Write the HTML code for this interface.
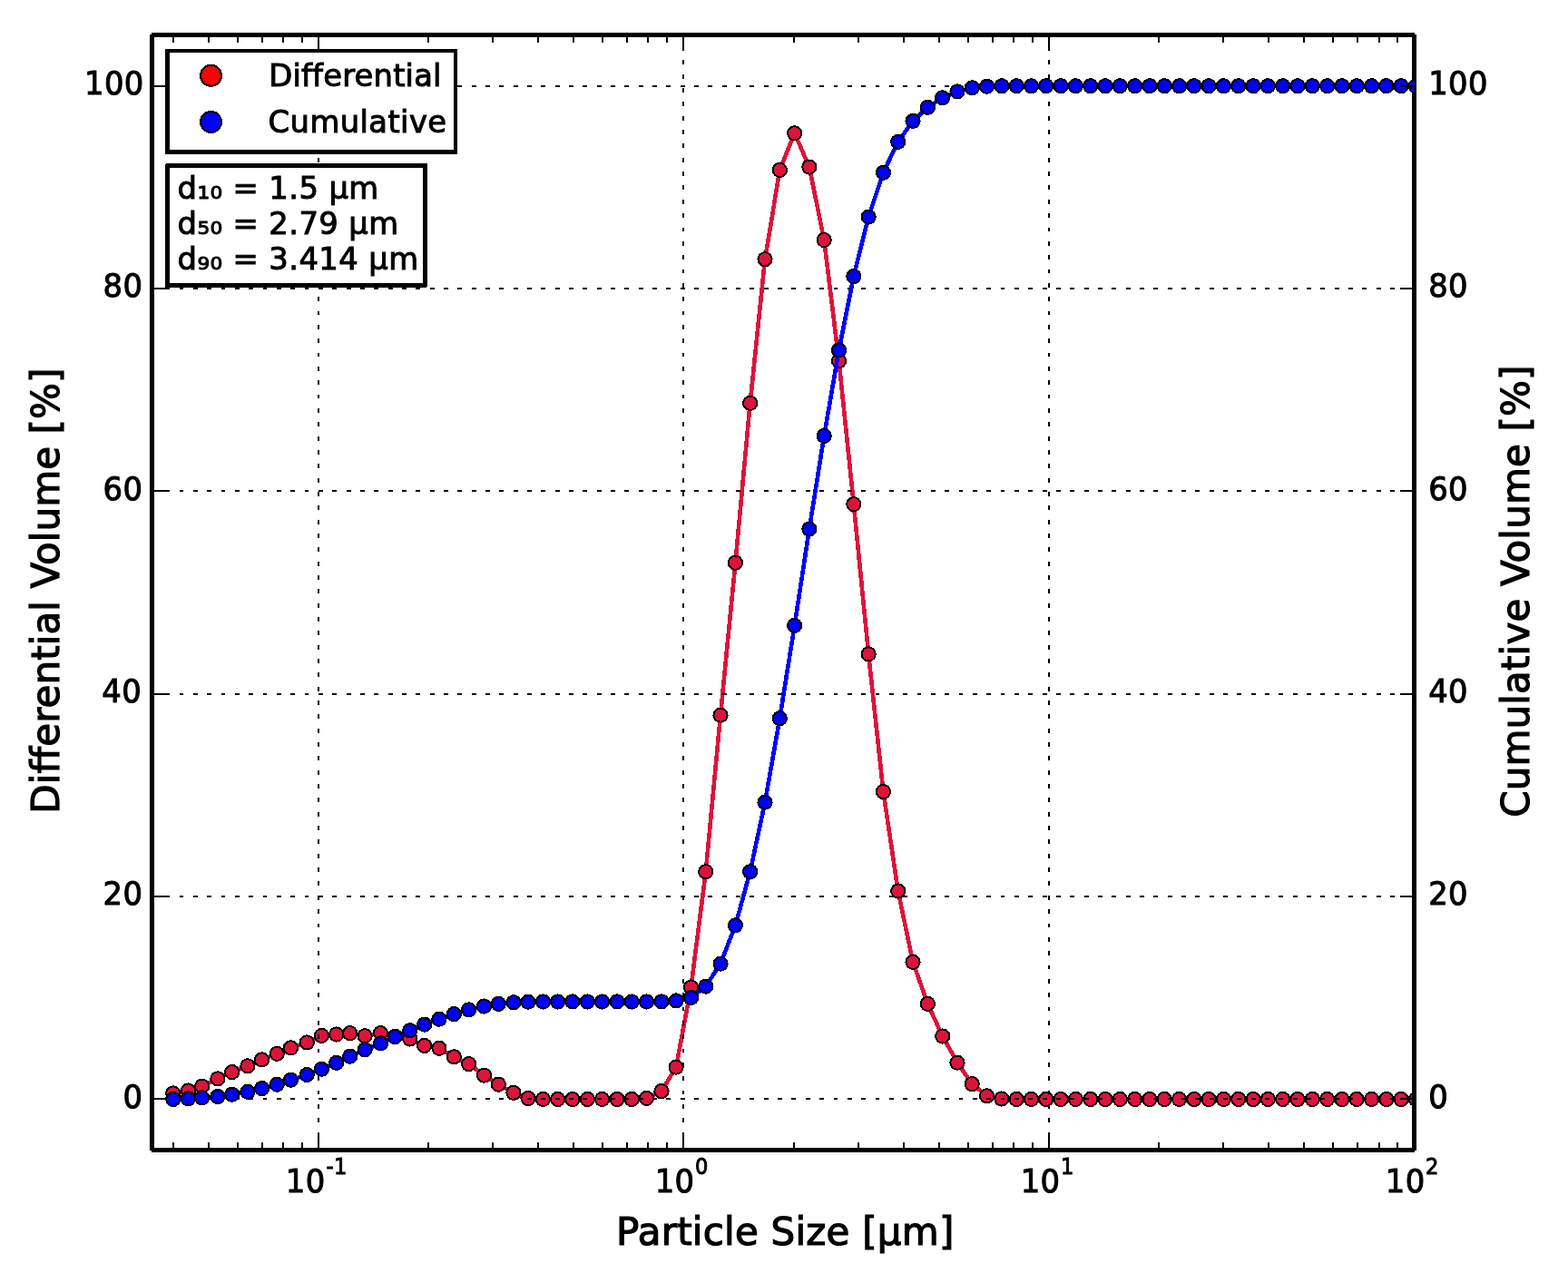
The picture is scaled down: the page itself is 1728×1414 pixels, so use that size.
<!DOCTYPE html>
<html lang="en"><head><meta charset="utf-8"><title>Particle Size Distribution</title>
<style>
html,body{margin:0;padding:0;background:#fff;}
body{width:1728px;height:1414px;overflow:hidden;}
svg{display:block;}
text{font-family:"DejaVu Sans","Liberation Sans",sans-serif;fill:#000;stroke:#000;stroke-width:1.0px;stroke-linejoin:miter;stroke-miterlimit:2;letter-spacing:0.4px;}
.tk{font-size:33.8px;}
.sp{font-size:22.6px;stroke-width:0.9px;}
.lg{font-size:33.8px;}
.bx{font-size:33.8px;}
.lb{font-size:42.0px;stroke-width:1.2px;}
.crisp{shape-rendering:crispEdges;}
</style></head><body>
<svg width="1728" height="1414" viewBox="0 0 1728 1414">
<rect x="0" y="0" width="1728" height="1414" fill="#fff"/>
<defs><clipPath id="ax"><rect x="167.5" y="38.5" width="1391.0" height="1229.0"/></clipPath></defs>
<g clip-path="url(#ax)" class="red crisp">
<polyline points="190.754,1204.875 207.416,1201.971 222.628,1197.17 239.951,1188.906 255.711,1181.535 272.92,1174.835 288.587,1167.911 305.249,1161.323 320.46,1154.846 338.254,1148.927 354.403,1141.445 370.753,1139.993 385.704,1138.653 402.105,1141.668 419.478,1138.653 435.279,1142.227 451.745,1145.018 467.691,1152.5 483.945,1155.292 500.31,1164.784 516.634,1172.602 533.419,1185.109 549.296,1195.159 565.907,1204.317 582.011,1210.459 598.461,1211.464 614.66,1211.464 630.9,1211.464 647.37,1211.464 663.594,1211.464 680.043,1211.464 696.294,1211.464 712.492,1210.347 728.934,1202.641 745.065,1176.175 761.51,1088.065 777.762,960.758 794.022,788.112 810.42,620.157 826.68,444.272 843.028,285.697 859.318,187.425 875.616,146.776 891.875,184.075 908.198,264.479 924.512,397.704 940.816,555.721 957.151,720.885 973.436,872.537 989.696,981.976 1006.061,1060.37 1022.382,1106.38 1038.682,1142.003 1054.999,1171.15 1071.261,1194.601 1087.593,1207.89 1103.876,1211.017 1120.193,1211.464 1136.51,1211.464 1152.827,1211.464 1169.151,1211.464 1185.4,1211.464 1201.752,1211.464 1218.059,1211.464 1234.32,1211.464 1250.626,1211.464 1266.937,1211.464 1283.211,1211.464 1299.566,1211.464 1315.857,1211.464 1332.105,1211.464 1348.488,1211.464 1364.743,1211.464 1381.116,1211.464 1397.365,1211.464 1413.679,1211.464 1429.992,1211.464 1446.345,1211.464 1462.636,1211.464 1478.921,1211.464 1495.254,1211.464 1511.569,1211.464 1527.871,1211.464 1544.154,1211.464 1560.473,1211.464 1576.804,1211.464 1593.036,1211.464 1609.333,1211.464" fill="none" stroke="#dc143c" stroke-width="4.6" stroke-linejoin="round"/>
<circle cx="190.754" cy="1204.875" r="7.6" fill="#dc143c" stroke="#000" stroke-width="2"/>
<circle cx="207.416" cy="1201.971" r="7.6" fill="#dc143c" stroke="#000" stroke-width="2"/>
<circle cx="222.628" cy="1197.17" r="7.6" fill="#dc143c" stroke="#000" stroke-width="2"/>
<circle cx="239.951" cy="1188.906" r="7.6" fill="#dc143c" stroke="#000" stroke-width="2"/>
<circle cx="255.711" cy="1181.535" r="7.6" fill="#dc143c" stroke="#000" stroke-width="2"/>
<circle cx="272.92" cy="1174.835" r="7.6" fill="#dc143c" stroke="#000" stroke-width="2"/>
<circle cx="288.587" cy="1167.911" r="7.6" fill="#dc143c" stroke="#000" stroke-width="2"/>
<circle cx="305.249" cy="1161.323" r="7.6" fill="#dc143c" stroke="#000" stroke-width="2"/>
<circle cx="320.46" cy="1154.846" r="7.6" fill="#dc143c" stroke="#000" stroke-width="2"/>
<circle cx="338.254" cy="1148.927" r="7.6" fill="#dc143c" stroke="#000" stroke-width="2"/>
<circle cx="354.403" cy="1141.445" r="7.6" fill="#dc143c" stroke="#000" stroke-width="2"/>
<circle cx="370.753" cy="1139.993" r="7.6" fill="#dc143c" stroke="#000" stroke-width="2"/>
<circle cx="385.704" cy="1138.653" r="7.6" fill="#dc143c" stroke="#000" stroke-width="2"/>
<circle cx="402.105" cy="1141.668" r="7.6" fill="#dc143c" stroke="#000" stroke-width="2"/>
<circle cx="419.478" cy="1138.653" r="7.6" fill="#dc143c" stroke="#000" stroke-width="2"/>
<circle cx="435.279" cy="1142.227" r="7.6" fill="#dc143c" stroke="#000" stroke-width="2"/>
<circle cx="451.745" cy="1145.018" r="7.6" fill="#dc143c" stroke="#000" stroke-width="2"/>
<circle cx="467.691" cy="1152.5" r="7.6" fill="#dc143c" stroke="#000" stroke-width="2"/>
<circle cx="483.945" cy="1155.292" r="7.6" fill="#dc143c" stroke="#000" stroke-width="2"/>
<circle cx="500.31" cy="1164.784" r="7.6" fill="#dc143c" stroke="#000" stroke-width="2"/>
<circle cx="516.634" cy="1172.602" r="7.6" fill="#dc143c" stroke="#000" stroke-width="2"/>
<circle cx="533.419" cy="1185.109" r="7.6" fill="#dc143c" stroke="#000" stroke-width="2"/>
<circle cx="549.296" cy="1195.159" r="7.6" fill="#dc143c" stroke="#000" stroke-width="2"/>
<circle cx="565.907" cy="1204.317" r="7.6" fill="#dc143c" stroke="#000" stroke-width="2"/>
<circle cx="582.011" cy="1210.459" r="7.6" fill="#dc143c" stroke="#000" stroke-width="2"/>
<circle cx="598.461" cy="1211.464" r="7.6" fill="#dc143c" stroke="#000" stroke-width="2"/>
<circle cx="614.66" cy="1211.464" r="7.6" fill="#dc143c" stroke="#000" stroke-width="2"/>
<circle cx="630.9" cy="1211.464" r="7.6" fill="#dc143c" stroke="#000" stroke-width="2"/>
<circle cx="647.37" cy="1211.464" r="7.6" fill="#dc143c" stroke="#000" stroke-width="2"/>
<circle cx="663.594" cy="1211.464" r="7.6" fill="#dc143c" stroke="#000" stroke-width="2"/>
<circle cx="680.043" cy="1211.464" r="7.6" fill="#dc143c" stroke="#000" stroke-width="2"/>
<circle cx="696.294" cy="1211.464" r="7.6" fill="#dc143c" stroke="#000" stroke-width="2"/>
<circle cx="712.492" cy="1210.347" r="7.6" fill="#dc143c" stroke="#000" stroke-width="2"/>
<circle cx="728.934" cy="1202.641" r="7.6" fill="#dc143c" stroke="#000" stroke-width="2"/>
<circle cx="745.065" cy="1176.175" r="7.6" fill="#dc143c" stroke="#000" stroke-width="2"/>
<circle cx="761.51" cy="1088.065" r="7.6" fill="#dc143c" stroke="#000" stroke-width="2"/>
<circle cx="777.762" cy="960.758" r="7.6" fill="#dc143c" stroke="#000" stroke-width="2"/>
<circle cx="794.022" cy="788.112" r="7.6" fill="#dc143c" stroke="#000" stroke-width="2"/>
<circle cx="810.42" cy="620.157" r="7.6" fill="#dc143c" stroke="#000" stroke-width="2"/>
<circle cx="826.68" cy="444.272" r="7.6" fill="#dc143c" stroke="#000" stroke-width="2"/>
<circle cx="843.028" cy="285.697" r="7.6" fill="#dc143c" stroke="#000" stroke-width="2"/>
<circle cx="859.318" cy="187.425" r="7.6" fill="#dc143c" stroke="#000" stroke-width="2"/>
<circle cx="875.616" cy="146.776" r="7.6" fill="#dc143c" stroke="#000" stroke-width="2"/>
<circle cx="891.875" cy="184.075" r="7.6" fill="#dc143c" stroke="#000" stroke-width="2"/>
<circle cx="908.198" cy="264.479" r="7.6" fill="#dc143c" stroke="#000" stroke-width="2"/>
<circle cx="924.512" cy="397.704" r="7.6" fill="#dc143c" stroke="#000" stroke-width="2"/>
<circle cx="940.816" cy="555.721" r="7.6" fill="#dc143c" stroke="#000" stroke-width="2"/>
<circle cx="957.151" cy="720.885" r="7.6" fill="#dc143c" stroke="#000" stroke-width="2"/>
<circle cx="973.436" cy="872.537" r="7.6" fill="#dc143c" stroke="#000" stroke-width="2"/>
<circle cx="989.696" cy="981.976" r="7.6" fill="#dc143c" stroke="#000" stroke-width="2"/>
<circle cx="1006.061" cy="1060.37" r="7.6" fill="#dc143c" stroke="#000" stroke-width="2"/>
<circle cx="1022.382" cy="1106.38" r="7.6" fill="#dc143c" stroke="#000" stroke-width="2"/>
<circle cx="1038.682" cy="1142.003" r="7.6" fill="#dc143c" stroke="#000" stroke-width="2"/>
<circle cx="1054.999" cy="1171.15" r="7.6" fill="#dc143c" stroke="#000" stroke-width="2"/>
<circle cx="1071.261" cy="1194.601" r="7.6" fill="#dc143c" stroke="#000" stroke-width="2"/>
<circle cx="1087.593" cy="1207.89" r="7.6" fill="#dc143c" stroke="#000" stroke-width="2"/>
<circle cx="1103.876" cy="1211.017" r="7.6" fill="#dc143c" stroke="#000" stroke-width="2"/>
<circle cx="1120.193" cy="1211.464" r="7.6" fill="#dc143c" stroke="#000" stroke-width="2"/>
<circle cx="1136.51" cy="1211.464" r="7.6" fill="#dc143c" stroke="#000" stroke-width="2"/>
<circle cx="1152.827" cy="1211.464" r="7.6" fill="#dc143c" stroke="#000" stroke-width="2"/>
<circle cx="1169.151" cy="1211.464" r="7.6" fill="#dc143c" stroke="#000" stroke-width="2"/>
<circle cx="1185.4" cy="1211.464" r="7.6" fill="#dc143c" stroke="#000" stroke-width="2"/>
<circle cx="1201.752" cy="1211.464" r="7.6" fill="#dc143c" stroke="#000" stroke-width="2"/>
<circle cx="1218.059" cy="1211.464" r="7.6" fill="#dc143c" stroke="#000" stroke-width="2"/>
<circle cx="1234.32" cy="1211.464" r="7.6" fill="#dc143c" stroke="#000" stroke-width="2"/>
<circle cx="1250.626" cy="1211.464" r="7.6" fill="#dc143c" stroke="#000" stroke-width="2"/>
<circle cx="1266.937" cy="1211.464" r="7.6" fill="#dc143c" stroke="#000" stroke-width="2"/>
<circle cx="1283.211" cy="1211.464" r="7.6" fill="#dc143c" stroke="#000" stroke-width="2"/>
<circle cx="1299.566" cy="1211.464" r="7.6" fill="#dc143c" stroke="#000" stroke-width="2"/>
<circle cx="1315.857" cy="1211.464" r="7.6" fill="#dc143c" stroke="#000" stroke-width="2"/>
<circle cx="1332.105" cy="1211.464" r="7.6" fill="#dc143c" stroke="#000" stroke-width="2"/>
<circle cx="1348.488" cy="1211.464" r="7.6" fill="#dc143c" stroke="#000" stroke-width="2"/>
<circle cx="1364.743" cy="1211.464" r="7.6" fill="#dc143c" stroke="#000" stroke-width="2"/>
<circle cx="1381.116" cy="1211.464" r="7.6" fill="#dc143c" stroke="#000" stroke-width="2"/>
<circle cx="1397.365" cy="1211.464" r="7.6" fill="#dc143c" stroke="#000" stroke-width="2"/>
<circle cx="1413.679" cy="1211.464" r="7.6" fill="#dc143c" stroke="#000" stroke-width="2"/>
<circle cx="1429.992" cy="1211.464" r="7.6" fill="#dc143c" stroke="#000" stroke-width="2"/>
<circle cx="1446.345" cy="1211.464" r="7.6" fill="#dc143c" stroke="#000" stroke-width="2"/>
<circle cx="1462.636" cy="1211.464" r="7.6" fill="#dc143c" stroke="#000" stroke-width="2"/>
<circle cx="1478.921" cy="1211.464" r="7.6" fill="#dc143c" stroke="#000" stroke-width="2"/>
<circle cx="1495.254" cy="1211.464" r="7.6" fill="#dc143c" stroke="#000" stroke-width="2"/>
<circle cx="1511.569" cy="1211.464" r="7.6" fill="#dc143c" stroke="#000" stroke-width="2"/>
<circle cx="1527.871" cy="1211.464" r="7.6" fill="#dc143c" stroke="#000" stroke-width="2"/>
<circle cx="1544.154" cy="1211.464" r="7.6" fill="#dc143c" stroke="#000" stroke-width="2"/>
<circle cx="1560.473" cy="1211.464" r="7.6" fill="#dc143c" stroke="#000" stroke-width="2"/>
</g>
<g class="crisp" stroke="#000" stroke-width="2" fill="none" stroke-dasharray="4.9 10.44" stroke-dashoffset="0.45">
<line x1="351" y1="1267.4" x2="351" y2="38.5"/>
<line x1="753" y1="1267.4" x2="753" y2="38.5"/>
<line x1="1156" y1="1267.4" x2="1156" y2="38.5"/>
<line x1="1559" y1="1267.4" x2="1559" y2="38.5"/>
<line x1="167.3" y1="1211" x2="1558.5" y2="1211"/>
<line x1="167.3" y1="988" x2="1558.5" y2="988"/>
<line x1="167.3" y1="765" x2="1558.5" y2="765"/>
<line x1="167.3" y1="541" x2="1558.5" y2="541"/>
<line x1="167.3" y1="318" x2="1558.5" y2="318"/>
<line x1="167.3" y1="95" x2="1558.5" y2="95"/>
</g>
<g class="crisp" stroke="#000" stroke-width="2" fill="none">
<line x1="167.5" y1="1211" x2="183.3" y2="1211"/>
<line x1="167.5" y1="988" x2="183.3" y2="988"/>
<line x1="167.5" y1="765" x2="183.3" y2="765"/>
<line x1="167.5" y1="541" x2="183.3" y2="541"/>
<line x1="167.5" y1="318" x2="183.3" y2="318"/>
<line x1="167.5" y1="95" x2="183.3" y2="95"/>
<line x1="191" y1="1267.5" x2="191" y2="1259.3"/>
<line x1="191" y1="38.5" x2="191" y2="46.7"/>
<line x1="230" y1="1267.5" x2="230" y2="1259.3"/>
<line x1="230" y1="38.5" x2="230" y2="46.7"/>
<line x1="262" y1="1267.5" x2="262" y2="1259.3"/>
<line x1="262" y1="38.5" x2="262" y2="46.7"/>
<line x1="289" y1="1267.5" x2="289" y2="1259.3"/>
<line x1="289" y1="38.5" x2="289" y2="46.7"/>
<line x1="312" y1="1267.5" x2="312" y2="1259.3"/>
<line x1="312" y1="38.5" x2="312" y2="46.7"/>
<line x1="333" y1="1267.5" x2="333" y2="1259.3"/>
<line x1="333" y1="38.5" x2="333" y2="46.7"/>
<line x1="351" y1="1267.5" x2="351" y2="1251.7"/>
<line x1="351" y1="38.5" x2="351" y2="54.3"/>
<line x1="472" y1="1267.5" x2="472" y2="1259.3"/>
<line x1="472" y1="38.5" x2="472" y2="46.7"/>
<line x1="543" y1="1267.5" x2="543" y2="1259.3"/>
<line x1="543" y1="38.5" x2="543" y2="46.7"/>
<line x1="593" y1="1267.5" x2="593" y2="1259.3"/>
<line x1="593" y1="38.5" x2="593" y2="46.7"/>
<line x1="632" y1="1267.5" x2="632" y2="1259.3"/>
<line x1="632" y1="38.5" x2="632" y2="46.7"/>
<line x1="664" y1="1267.5" x2="664" y2="1259.3"/>
<line x1="664" y1="38.5" x2="664" y2="46.7"/>
<line x1="691" y1="1267.5" x2="691" y2="1259.3"/>
<line x1="691" y1="38.5" x2="691" y2="46.7"/>
<line x1="714" y1="1267.5" x2="714" y2="1259.3"/>
<line x1="714" y1="38.5" x2="714" y2="46.7"/>
<line x1="735" y1="1267.5" x2="735" y2="1259.3"/>
<line x1="735" y1="38.5" x2="735" y2="46.7"/>
<line x1="753" y1="1267.5" x2="753" y2="1251.7"/>
<line x1="753" y1="38.5" x2="753" y2="54.3"/>
<line x1="875" y1="1267.5" x2="875" y2="1259.3"/>
<line x1="875" y1="38.5" x2="875" y2="46.7"/>
<line x1="946" y1="1267.5" x2="946" y2="1259.3"/>
<line x1="946" y1="38.5" x2="946" y2="46.7"/>
<line x1="996" y1="1267.5" x2="996" y2="1259.3"/>
<line x1="996" y1="38.5" x2="996" y2="46.7"/>
<line x1="1035" y1="1267.5" x2="1035" y2="1259.3"/>
<line x1="1035" y1="38.5" x2="1035" y2="46.7"/>
<line x1="1067" y1="1267.5" x2="1067" y2="1259.3"/>
<line x1="1067" y1="38.5" x2="1067" y2="46.7"/>
<line x1="1094" y1="1267.5" x2="1094" y2="1259.3"/>
<line x1="1094" y1="38.5" x2="1094" y2="46.7"/>
<line x1="1117" y1="1267.5" x2="1117" y2="1259.3"/>
<line x1="1117" y1="38.5" x2="1117" y2="46.7"/>
<line x1="1138" y1="1267.5" x2="1138" y2="1259.3"/>
<line x1="1138" y1="38.5" x2="1138" y2="46.7"/>
<line x1="1156" y1="1267.5" x2="1156" y2="1251.7"/>
<line x1="1156" y1="38.5" x2="1156" y2="54.3"/>
<line x1="1277" y1="1267.5" x2="1277" y2="1259.3"/>
<line x1="1277" y1="38.5" x2="1277" y2="46.7"/>
<line x1="1348" y1="1267.5" x2="1348" y2="1259.3"/>
<line x1="1348" y1="38.5" x2="1348" y2="46.7"/>
<line x1="1398" y1="1267.5" x2="1398" y2="1259.3"/>
<line x1="1398" y1="38.5" x2="1398" y2="46.7"/>
<line x1="1437" y1="1267.5" x2="1437" y2="1259.3"/>
<line x1="1437" y1="38.5" x2="1437" y2="46.7"/>
<line x1="1469" y1="1267.5" x2="1469" y2="1259.3"/>
<line x1="1469" y1="38.5" x2="1469" y2="46.7"/>
<line x1="1496" y1="1267.5" x2="1496" y2="1259.3"/>
<line x1="1496" y1="38.5" x2="1496" y2="46.7"/>
<line x1="1520" y1="1267.5" x2="1520" y2="1259.3"/>
<line x1="1520" y1="38.5" x2="1520" y2="46.7"/>
<line x1="1540" y1="1267.5" x2="1540" y2="1259.3"/>
<line x1="1540" y1="38.5" x2="1540" y2="46.7"/>
<line x1="1559" y1="1267.5" x2="1559" y2="1251.7"/>
<line x1="1559" y1="38.5" x2="1559" y2="54.3"/>
</g>
<g class="crisp" fill="#000">
<rect x="167" y="36" width="1392" height="5"/>
<rect x="167" y="1265" width="1392" height="5"/>
<rect x="165" y="38" width="5" height="1230"/>
<rect x="1556" y="38" width="5" height="1230"/>
</g>
<g clip-path="url(#ax)" class="blue crisp">
<polyline points="190.754,1211.464 207.416,1210.806 222.628,1209.858 239.951,1208.43 255.711,1206.177 272.92,1203.188 288.587,1199.53 305.249,1195.181 320.46,1190.173 338.254,1184.519 354.403,1178.273 370.753,1171.28 385.704,1164.142 402.105,1156.871 419.478,1149.9 435.279,1142.629 451.745,1135.714 467.691,1129.078 483.945,1123.189 500.31,1117.58 516.634,1112.918 533.419,1109.037 549.296,1106.405 565.907,1104.776 582.011,1104.062 598.461,1103.962 614.66,1103.962 630.9,1103.962 647.37,1103.962 663.594,1103.962 680.043,1103.962 696.294,1103.962 712.492,1103.962 728.934,1103.851 745.065,1102.969 761.51,1099.445 777.762,1087.121 794.022,1062.083 810.42,1019.803 826.68,960.749 843.028,884.13 859.318,791.673 875.616,689.402 891.875,583.072 908.198,480.466 924.512,385.891 940.816,304.62 957.151,239.131 973.436,190.137 989.696,156.289 1006.061,133.37 1022.382,118.28 1038.682,107.785 1054.999,100.848 1071.261,96.822 1087.593,95.138 1103.876,94.781 1120.193,94.736 1136.51,94.736 1152.827,94.736 1169.151,94.736 1185.4,94.736 1201.752,94.736 1218.059,94.736 1234.32,94.736 1250.626,94.736 1266.937,94.736 1283.211,94.736 1299.566,94.736 1315.857,94.736 1332.105,94.736 1348.488,94.736 1364.743,94.736 1381.116,94.736 1397.365,94.736 1413.679,94.736 1429.992,94.736 1446.345,94.736 1462.636,94.736 1478.921,94.736 1495.254,94.736 1511.569,94.736 1527.871,94.736 1544.154,94.736 1560.473,94.736 1576.804,94.736 1593.036,94.736 1609.333,94.736" fill="none" stroke="#0000ff" stroke-width="4.6" stroke-linejoin="round"/>
<circle cx="190.754" cy="1211.464" r="7.6" fill="#0000ff" stroke="#000" stroke-width="2"/>
<circle cx="207.416" cy="1210.806" r="7.6" fill="#0000ff" stroke="#000" stroke-width="2"/>
<circle cx="222.628" cy="1209.858" r="7.6" fill="#0000ff" stroke="#000" stroke-width="2"/>
<circle cx="239.951" cy="1208.43" r="7.6" fill="#0000ff" stroke="#000" stroke-width="2"/>
<circle cx="255.711" cy="1206.177" r="7.6" fill="#0000ff" stroke="#000" stroke-width="2"/>
<circle cx="272.92" cy="1203.188" r="7.6" fill="#0000ff" stroke="#000" stroke-width="2"/>
<circle cx="288.587" cy="1199.53" r="7.6" fill="#0000ff" stroke="#000" stroke-width="2"/>
<circle cx="305.249" cy="1195.181" r="7.6" fill="#0000ff" stroke="#000" stroke-width="2"/>
<circle cx="320.46" cy="1190.173" r="7.6" fill="#0000ff" stroke="#000" stroke-width="2"/>
<circle cx="338.254" cy="1184.519" r="7.6" fill="#0000ff" stroke="#000" stroke-width="2"/>
<circle cx="354.403" cy="1178.273" r="7.6" fill="#0000ff" stroke="#000" stroke-width="2"/>
<circle cx="370.753" cy="1171.28" r="7.6" fill="#0000ff" stroke="#000" stroke-width="2"/>
<circle cx="385.704" cy="1164.142" r="7.6" fill="#0000ff" stroke="#000" stroke-width="2"/>
<circle cx="402.105" cy="1156.871" r="7.6" fill="#0000ff" stroke="#000" stroke-width="2"/>
<circle cx="419.478" cy="1149.9" r="7.6" fill="#0000ff" stroke="#000" stroke-width="2"/>
<circle cx="435.279" cy="1142.629" r="7.6" fill="#0000ff" stroke="#000" stroke-width="2"/>
<circle cx="451.745" cy="1135.714" r="7.6" fill="#0000ff" stroke="#000" stroke-width="2"/>
<circle cx="467.691" cy="1129.078" r="7.6" fill="#0000ff" stroke="#000" stroke-width="2"/>
<circle cx="483.945" cy="1123.189" r="7.6" fill="#0000ff" stroke="#000" stroke-width="2"/>
<circle cx="500.31" cy="1117.58" r="7.6" fill="#0000ff" stroke="#000" stroke-width="2"/>
<circle cx="516.634" cy="1112.918" r="7.6" fill="#0000ff" stroke="#000" stroke-width="2"/>
<circle cx="533.419" cy="1109.037" r="7.6" fill="#0000ff" stroke="#000" stroke-width="2"/>
<circle cx="549.296" cy="1106.405" r="7.6" fill="#0000ff" stroke="#000" stroke-width="2"/>
<circle cx="565.907" cy="1104.776" r="7.6" fill="#0000ff" stroke="#000" stroke-width="2"/>
<circle cx="582.011" cy="1104.062" r="7.6" fill="#0000ff" stroke="#000" stroke-width="2"/>
<circle cx="598.461" cy="1103.962" r="7.6" fill="#0000ff" stroke="#000" stroke-width="2"/>
<circle cx="614.66" cy="1103.962" r="7.6" fill="#0000ff" stroke="#000" stroke-width="2"/>
<circle cx="630.9" cy="1103.962" r="7.6" fill="#0000ff" stroke="#000" stroke-width="2"/>
<circle cx="647.37" cy="1103.962" r="7.6" fill="#0000ff" stroke="#000" stroke-width="2"/>
<circle cx="663.594" cy="1103.962" r="7.6" fill="#0000ff" stroke="#000" stroke-width="2"/>
<circle cx="680.043" cy="1103.962" r="7.6" fill="#0000ff" stroke="#000" stroke-width="2"/>
<circle cx="696.294" cy="1103.962" r="7.6" fill="#0000ff" stroke="#000" stroke-width="2"/>
<circle cx="712.492" cy="1103.962" r="7.6" fill="#0000ff" stroke="#000" stroke-width="2"/>
<circle cx="728.934" cy="1103.851" r="7.6" fill="#0000ff" stroke="#000" stroke-width="2"/>
<circle cx="745.065" cy="1102.969" r="7.6" fill="#0000ff" stroke="#000" stroke-width="2"/>
<circle cx="761.51" cy="1099.445" r="7.6" fill="#0000ff" stroke="#000" stroke-width="2"/>
<circle cx="777.762" cy="1087.121" r="7.6" fill="#0000ff" stroke="#000" stroke-width="2"/>
<circle cx="794.022" cy="1062.083" r="7.6" fill="#0000ff" stroke="#000" stroke-width="2"/>
<circle cx="810.42" cy="1019.803" r="7.6" fill="#0000ff" stroke="#000" stroke-width="2"/>
<circle cx="826.68" cy="960.749" r="7.6" fill="#0000ff" stroke="#000" stroke-width="2"/>
<circle cx="843.028" cy="884.13" r="7.6" fill="#0000ff" stroke="#000" stroke-width="2"/>
<circle cx="859.318" cy="791.673" r="7.6" fill="#0000ff" stroke="#000" stroke-width="2"/>
<circle cx="875.616" cy="689.402" r="7.6" fill="#0000ff" stroke="#000" stroke-width="2"/>
<circle cx="891.875" cy="583.072" r="7.6" fill="#0000ff" stroke="#000" stroke-width="2"/>
<circle cx="908.198" cy="480.466" r="7.6" fill="#0000ff" stroke="#000" stroke-width="2"/>
<circle cx="924.512" cy="385.891" r="7.6" fill="#0000ff" stroke="#000" stroke-width="2"/>
<circle cx="940.816" cy="304.62" r="7.6" fill="#0000ff" stroke="#000" stroke-width="2"/>
<circle cx="957.151" cy="239.131" r="7.6" fill="#0000ff" stroke="#000" stroke-width="2"/>
<circle cx="973.436" cy="190.137" r="7.6" fill="#0000ff" stroke="#000" stroke-width="2"/>
<circle cx="989.696" cy="156.289" r="7.6" fill="#0000ff" stroke="#000" stroke-width="2"/>
<circle cx="1006.061" cy="133.37" r="7.6" fill="#0000ff" stroke="#000" stroke-width="2"/>
<circle cx="1022.382" cy="118.28" r="7.6" fill="#0000ff" stroke="#000" stroke-width="2"/>
<circle cx="1038.682" cy="107.785" r="7.6" fill="#0000ff" stroke="#000" stroke-width="2"/>
<circle cx="1054.999" cy="100.848" r="7.6" fill="#0000ff" stroke="#000" stroke-width="2"/>
<circle cx="1071.261" cy="96.822" r="7.6" fill="#0000ff" stroke="#000" stroke-width="2"/>
<circle cx="1087.593" cy="95.138" r="7.6" fill="#0000ff" stroke="#000" stroke-width="2"/>
<circle cx="1103.876" cy="94.781" r="7.6" fill="#0000ff" stroke="#000" stroke-width="2"/>
<circle cx="1120.193" cy="94.736" r="7.6" fill="#0000ff" stroke="#000" stroke-width="2"/>
<circle cx="1136.51" cy="94.736" r="7.6" fill="#0000ff" stroke="#000" stroke-width="2"/>
<circle cx="1152.827" cy="94.736" r="7.6" fill="#0000ff" stroke="#000" stroke-width="2"/>
<circle cx="1169.151" cy="94.736" r="7.6" fill="#0000ff" stroke="#000" stroke-width="2"/>
<circle cx="1185.4" cy="94.736" r="7.6" fill="#0000ff" stroke="#000" stroke-width="2"/>
<circle cx="1201.752" cy="94.736" r="7.6" fill="#0000ff" stroke="#000" stroke-width="2"/>
<circle cx="1218.059" cy="94.736" r="7.6" fill="#0000ff" stroke="#000" stroke-width="2"/>
<circle cx="1234.32" cy="94.736" r="7.6" fill="#0000ff" stroke="#000" stroke-width="2"/>
<circle cx="1250.626" cy="94.736" r="7.6" fill="#0000ff" stroke="#000" stroke-width="2"/>
<circle cx="1266.937" cy="94.736" r="7.6" fill="#0000ff" stroke="#000" stroke-width="2"/>
<circle cx="1283.211" cy="94.736" r="7.6" fill="#0000ff" stroke="#000" stroke-width="2"/>
<circle cx="1299.566" cy="94.736" r="7.6" fill="#0000ff" stroke="#000" stroke-width="2"/>
<circle cx="1315.857" cy="94.736" r="7.6" fill="#0000ff" stroke="#000" stroke-width="2"/>
<circle cx="1332.105" cy="94.736" r="7.6" fill="#0000ff" stroke="#000" stroke-width="2"/>
<circle cx="1348.488" cy="94.736" r="7.6" fill="#0000ff" stroke="#000" stroke-width="2"/>
<circle cx="1364.743" cy="94.736" r="7.6" fill="#0000ff" stroke="#000" stroke-width="2"/>
<circle cx="1381.116" cy="94.736" r="7.6" fill="#0000ff" stroke="#000" stroke-width="2"/>
<circle cx="1397.365" cy="94.736" r="7.6" fill="#0000ff" stroke="#000" stroke-width="2"/>
<circle cx="1413.679" cy="94.736" r="7.6" fill="#0000ff" stroke="#000" stroke-width="2"/>
<circle cx="1429.992" cy="94.736" r="7.6" fill="#0000ff" stroke="#000" stroke-width="2"/>
<circle cx="1446.345" cy="94.736" r="7.6" fill="#0000ff" stroke="#000" stroke-width="2"/>
<circle cx="1462.636" cy="94.736" r="7.6" fill="#0000ff" stroke="#000" stroke-width="2"/>
<circle cx="1478.921" cy="94.736" r="7.6" fill="#0000ff" stroke="#000" stroke-width="2"/>
<circle cx="1495.254" cy="94.736" r="7.6" fill="#0000ff" stroke="#000" stroke-width="2"/>
<circle cx="1511.569" cy="94.736" r="7.6" fill="#0000ff" stroke="#000" stroke-width="2"/>
<circle cx="1527.871" cy="94.736" r="7.6" fill="#0000ff" stroke="#000" stroke-width="2"/>
<circle cx="1544.154" cy="94.736" r="7.6" fill="#0000ff" stroke="#000" stroke-width="2"/>
<circle cx="1560.473" cy="94.736" r="7.6" fill="#0000ff" stroke="#000" stroke-width="2"/>
</g>
<g class="crisp" stroke="#000" stroke-width="2" fill="none">
<line x1="1558.5" y1="1211" x2="1542.7" y2="1211"/>
<line x1="1558.5" y1="988" x2="1542.7" y2="988"/>
<line x1="1558.5" y1="765" x2="1542.7" y2="765"/>
<line x1="1558.5" y1="541" x2="1542.7" y2="541"/>
<line x1="1558.5" y1="318" x2="1542.7" y2="318"/>
<line x1="1558.5" y1="95" x2="1542.7" y2="95"/>
</g>
<text class="tk" transform="translate(157.35 1220.9) scale(1 1.05)" text-anchor="end">0</text>
<text class="tk" transform="translate(1574.2 1220.9) scale(1 1.05)" text-anchor="start">0</text>
<text class="tk" transform="translate(157.35 997.3) scale(1 1.05)" text-anchor="end">20</text>
<text class="tk" transform="translate(1574.2 997.3) scale(1 1.05)" text-anchor="start">20</text>
<text class="tk" transform="translate(156.15 773.6) scale(1 1.05)" text-anchor="end">40</text>
<text class="tk" transform="translate(1574.2 773.6) scale(1 1.05)" text-anchor="start">40</text>
<text class="tk" transform="translate(157.35 551) scale(1 1.05)" text-anchor="end">60</text>
<text class="tk" transform="translate(1574.2 551) scale(1 1.05)" text-anchor="start">60</text>
<text class="tk" transform="translate(157.35 327) scale(1 1.05)" text-anchor="end">80</text>
<text class="tk" transform="translate(1574.2 327) scale(1 1.05)" text-anchor="start">80</text>
<text class="tk" transform="translate(158.7 103.8) scale(1 1.05)" text-anchor="end">100</text>
<text class="tk" transform="translate(1574.2 103.8) scale(1 1.05)" text-anchor="start">100</text>
<text class="tk" transform="translate(314.741 1314.4) scale(1 1.05)">10</text>
<text class="sp" transform="translate(359.391 1293.6) scale(1 1.06)">-1</text>
<text class="tk" transform="translate(721.68 1314.4) scale(1 1.05)">10</text>
<text class="sp" transform="translate(765.88 1293.6) scale(1 1.06)">0</text>
<text class="tk" transform="translate(1124.72 1314.4) scale(1 1.05)">10</text>
<text class="sp" transform="translate(1168.92 1293.6) scale(1 1.06)">1</text>
<text class="tk" transform="translate(1526.86 1314.4) scale(1 1.05)">10</text>
<text class="sp" transform="translate(1571.06 1293.6) scale(1 1.06)">2</text>
<text class="lb" transform="translate(65 651.1) rotate(-90)" text-anchor="middle" style="letter-spacing:0.08px">Differential Volume [%]</text>
<text class="lb" transform="translate(1685.4 651.6) rotate(-90)" text-anchor="middle" style="letter-spacing:0.15px">Cumulative Volume [%]</text>
<text class="lb" x="865.3" y="1372" text-anchor="middle" style="letter-spacing:0.22px">Particle Size [µm]</text>
<rect class="crisp" x="182" y="54" width="322" height="116" fill="#000"/>
<rect class="crisp" x="187" y="58" width="313" height="107" fill="#fff"/>
<circle class="crisp" cx="232.5" cy="83.3" r="11.5" fill="#ff0000" stroke="#000" stroke-width="2"/>
<circle class="crisp" cx="232.5" cy="134.4" r="11.5" fill="#0000ff" stroke="#000" stroke-width="2"/>
<text class="lg" x="296.2" y="95.4" style="letter-spacing:0.2px">Differential</text>
<text class="lg" x="295.6" y="146.1">Cumulative</text>
<rect class="crisp" x="182" y="180" width="289" height="137" rx="2" ry="2" fill="#000"/>
<rect class="crisp" x="187" y="185" width="279" height="127" fill="#fff"/>
<text class="bx" x="195.6" y="218.5">d₁₀ = 1.5 µm</text>
<text class="bx" x="195.6" y="257.6">d₅₀ = 2.79 µm</text>
<text class="bx" x="195.6" y="296.6">d₉₀ = 3.414 µm</text>
</svg>
</body></html>
